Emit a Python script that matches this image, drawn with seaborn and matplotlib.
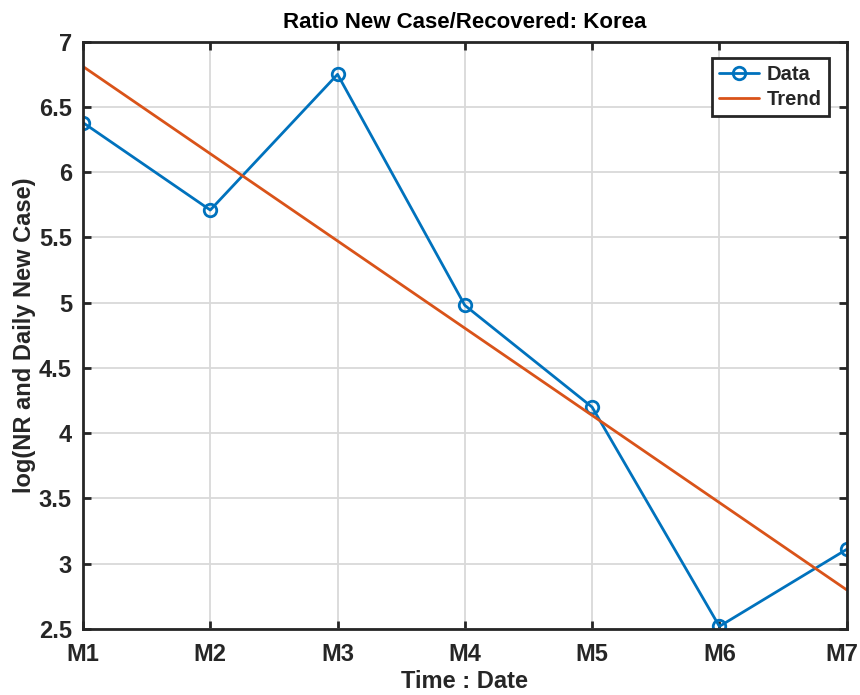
import matplotlib
matplotlib.use("Agg")
import matplotlib.pyplot as plt
import matplotlib.transforms as mtransforms
import seaborn as sns
import pandas as pd

months = ["M1", "M2", "M3", "M4", "M5", "M6", "M7"]
data_vals = [6.38, 5.71, 6.75, 4.98, 4.20, 2.52, 3.11]
trend_months = ["M1", "M7"]
trend_vals = [6.81, 2.80]
yticks = [2.5, 3, 3.5, 4, 4.5, 5, 5.5, 6, 6.5, 7]

sns.set_style("whitegrid")
plt.rcParams["font.family"] = ["Liberation Sans", "DejaVu Sans"]
plt.rcParams["font.weight"] = "bold"

df = pd.DataFrame({"x": range(len(months)), "y": data_vals})
tdf = pd.DataFrame({"x": [months.index(m) for m in trend_months], "y": trend_vals})

fig = plt.figure(figsize=(8.6, 6.95), dpi=100)
ax = fig.add_axes([0.0965, 0.095, 0.888, 0.845])

sns.lineplot(data=df, x="x", y="y", ax=ax, color="#0072BD", lw=2,
             marker="o", markersize=9, markerfacecolor="none",
             markeredgecolor="#0072BD", markeredgewidth=2, label="Data")
sns.lineplot(data=tdf, x="x", y="y", ax=ax, color="#D95319", lw=2, label="Trend")

ax.set_xlim(0, len(months) - 1)
ax.set_ylim(2.5, 7)
ax.set_xticks(range(len(months)))
ax.set_xticklabels(months)
ax.set_yticks(yticks)
ax.set_yticklabels([f"{v:g}" for v in yticks])

ax.grid(True, color="#d9d9d9", lw=1.3)
for s in ax.spines.values():
    s.set_visible(True)
    s.set_color("#262626")
    s.set_linewidth(2)
ax.tick_params(axis="both", direction="in", length=6, width=2, color="#262626",
               labelsize=17, labelcolor="#262626",
               top=True, right=True, left=True, bottom=True)
ax.tick_params(axis="x", pad=10)
ax.tick_params(axis="y", pad=8)
for lab in ax.get_xticklabels() + ax.get_yticklabels():
    lab.set_fontweight("bold")
# keep the last month label inside the canvas, as in the reference
last = ax.get_xticklabels()[-1]
last.set_transform(last.get_transform() +
                   mtransforms.ScaledTranslation(-5 / 100, 0, fig.dpi_scale_trans))

ax.set_title("Ratio New Case/Recovered: Korea", fontsize=16, fontweight="bold",
             color="black", pad=10)
ax.set_xlabel("Time : Date", fontsize=17, fontweight="bold", color="#262626", labelpad=3)
ax.set_ylabel("log(NR and Daily New Case)", fontsize=17, fontweight="bold",
              color="#262626", labelpad=2)

leg = ax.legend(loc="upper right", fontsize=14.5, frameon=True, fancybox=False,
                edgecolor="#262626", framealpha=1, handlelength=2.0,
                borderpad=0.35, labelspacing=0.3, handletextpad=0.4,
                borderaxespad=0, bbox_to_anchor=(0.977, 0.973))
leg.get_frame().set_linewidth(2)
for t in leg.get_texts():
    t.set_fontweight("bold")

fig.savefig("out.png", dpi=100)
